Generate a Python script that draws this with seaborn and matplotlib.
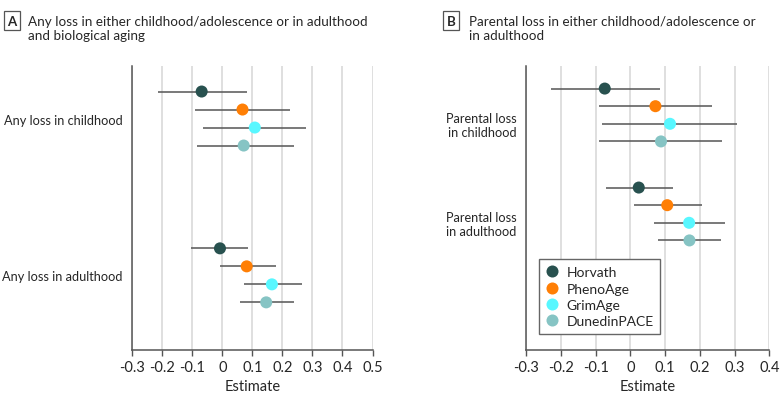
import numpy as np
import pandas as pd
import matplotlib.pyplot as plt
import seaborn as sns

# Clocks and colours
clocks = ['Horvath', 'PhenoAge', 'GrimAge', 'DunedinPACE']
colors = ['#28514f', '#ff7f05', '#58f7ff', '#86c4c4']

# Panel A: any loss
a_groups = ['Any loss in childhood', 'Any loss in adulthood']
a_est = [[-0.069, 0.067, 0.108, 0.071], [-0.008, 0.081, 0.165, 0.146]]
a_lo = [[-0.216, -0.092, -0.064, -0.083], [-0.105, -0.008, 0.071, 0.058]]
a_hi = [[0.082, 0.224, 0.280, 0.239], [0.086, 0.177, 0.264, 0.240]]
a_ticks = [-0.3, -0.2, -0.1, 0, 0.1, 0.2, 0.3, 0.4, 0.5]
a_ticklabels = ['-0.3', '-0.2', '-0.1', '0', '0.1', '0.2', '0.3', '0.4', '0.5']

# Panel B: parental loss
b_groups = ['Parental loss\nin childhood', 'Parental loss\nin adulthood']
b_est = [[-0.074, 0.072, 0.114, 0.088], [0.024, 0.106, 0.169, 0.170]]
b_lo = [[-0.230, -0.092, -0.082, -0.092], [-0.069, 0.011, 0.068, 0.079]]
b_hi = [[0.086, 0.236, 0.307, 0.265], [0.123, 0.206, 0.273, 0.260]]
b_ticks = [-0.3, -0.2, -0.1, 0, 0.1, 0.2, 0.3, 0.4]
b_ticklabels = ['-0.3', '-0.2', '-0.1', '0', '0.1', '0.2', '0.3', '0.4']

sns.set_style('white')
plt.rcParams['font.family'] = ['Lato', 'DejaVu Sans']

W, H = 783, 406
fig = plt.figure(figsize=(W / 100, H / 100), dpi=100)


def px_axes(x0, y0, x1, y1):
    return fig.add_axes([x0 / W, 1 - y1 / H, (x1 - x0) / W, (y1 - y0) / H])


def draw(ax, groups, est, lo, hi, ticks, ticklabels, step, ylim, label_shift, legend):
    rows = []
    for g, name in enumerate(groups):
        for i, c in enumerate(clocks):
            rows.append(dict(group=name, clock=c, est=est[g][i], lo=lo[g][i],
                             hi=hi[g][i], y=g + (i - 1.5) * step))
    df = pd.DataFrame(rows)
    ax.hlines(df['y'], df['lo'], df['hi'], color='#555555', lw=1.1, zorder=2)
    sns.scatterplot(data=df, x='est', y='y', hue='clock', hue_order=clocks,
                    palette=colors, s=75, linewidth=0, zorder=3, ax=ax,
                    legend=legend)
    ax.set_xlim(ticks[0], ticks[-1])
    ax.set_ylim(*ylim)
    ax.set_xticks(ticks)
    ax.set_xticklabels(ticklabels, fontsize=10.5)
    ax.set_yticks([g + label_shift for g in range(len(groups))])
    ax.set_yticklabels(groups, fontsize=9.2, ha='right', multialignment='right',
                       linespacing=1.2)
    ax.tick_params(axis='y', length=0, pad=7)
    ax.tick_params(axis='x', length=4, width=1, color='#555555', pad=3,
                   bottom=True, direction='out')
    ax.set_axisbelow(True)
    ax.grid(axis='x', color='#dcdcdc', lw=1.3)
    ax.grid(axis='y', visible=False)
    for side in ['top', 'right']:
        ax.spines[side].set_visible(False)
    for side in ['left', 'bottom']:
        ax.spines[side].set_color('#555555')
        ax.spines[side].set_linewidth(1.1)
    ax.set_xlabel('Estimate', fontsize=10.5, labelpad=4)
    ax.set_ylabel('')


ax_a = px_axes(132.3, 67, 372.5, 351)
draw(ax_a, a_groups, a_est, a_lo, a_hi, a_ticks, a_ticklabels,
     0.1148, (1.476, -0.335), 0, False)

ax_b = px_axes(526.3, 67, 769.3, 351)
draw(ax_b, b_groups, b_est, b_lo, b_hi, b_ticks, b_ticklabels,
     0.178, (2.374, -0.495), 0.08, True)
leg = ax_b.legend(loc='upper left', bbox_to_anchor=(0.0535, 0.319),
                  borderaxespad=0, frameon=True, fancybox=False,
                  edgecolor='#666666', framealpha=1, fontsize=10.0,
                  handlelength=0.9, handletextpad=0.55, labelspacing=0.3,
                  borderpad=0.5, markerscale=1.0)
leg.get_frame().set_linewidth(1)

# Panel headers
box = dict(boxstyle='square,pad=0.25', fc='white', ec='#555555', lw=0.9)
fig.text(12 / W, 1 - 21.5 / H, 'A', ha='center', va='center',
         fontsize=9.5, fontweight='bold', bbox=box)
fig.text(28.5 / W, 1 - 15.5 / H,
         'Any loss in either childhood/adolescence or in adulthood\nand biological aging',
         ha='left', va='top', fontsize=9.7, linespacing=1.2)
fig.text(451 / W, 1 - 21.5 / H, 'B', ha='center', va='center',
         fontsize=9.5, fontweight='bold', bbox=box)
fig.text(469.5 / W, 1 - 15.5 / H,
         'Parental loss in either childhood/adolescence or\nin adulthood',
         ha='left', va='top', fontsize=9.7, linespacing=1.2)

fig.savefig('out.png', dpi=100)
